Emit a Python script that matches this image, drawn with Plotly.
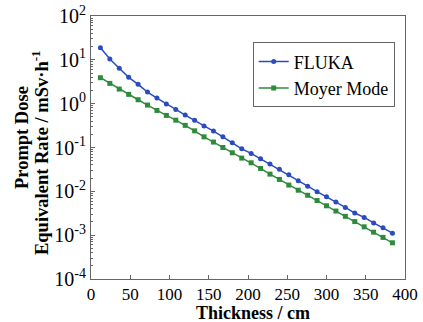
import plotly.graph_objects as go

thickness = [12, 24, 36, 48, 60, 72, 84, 96, 108, 120, 132, 144, 156, 168, 180, 192,
             204, 216, 228, 240, 252, 264, 276, 288, 300, 312, 324, 336, 348, 360, 372, 384]
fluka = [18.9, 10.4, 6.4, 3.98, 2.76, 1.84, 1.34, 0.98, 0.74, 0.55, 0.42, 0.308,
         0.237, 0.175, 0.128, 0.0933, 0.0733, 0.0552, 0.0418, 0.0321, 0.0238, 0.0174,
         0.0131, 0.0098, 0.0075, 0.0057, 0.0043, 0.0032, 0.00254, 0.0019, 0.00147, 0.00111]
moyer = [3.91, 2.90, 2.15, 1.63, 1.23, 0.93, 0.70, 0.54, 0.42, 0.32, 0.24, 0.175,
         0.133, 0.100, 0.0757, 0.0573, 0.0448, 0.0333, 0.0247, 0.0187, 0.0139, 0.0106,
         0.00813, 0.00617, 0.00468, 0.00355, 0.00269, 0.00204, 0.00155, 0.00117, 0.00089, 0.00067]
x_tickvals = [0, 50, 100, 150, 200, 250, 300, 350, 400]
x_ticktext = ["0", "50", "100", "150", "200", "250", "300", "350", "400"]
y_tickvals = [1e-4, 1e-3, 1e-2, 1e-1, 1e0, 1e1, 1e2]
y_ticktext = ["10<sup>-4</sup>", "10<sup>-3</sup>", "10<sup>-2</sup>", "10<sup>-1</sup>",
              "10<sup>0</sup>", "10<sup>1</sup>", "10<sup>2</sup>"]
x_title = "<b>Thickness / cm</b>"
y_title_lines = ["<b>Prompt Dose</b>", "<b>Equivalent Rate / mSv·h<sup>-1</sup></b>"]

FONT = "Liberation Serif"
BLUE = "#2a4cc0"
GREEN = "#2e8b3c"

fig = go.Figure()
fig.add_trace(go.Scatter(x=thickness, y=fluka, mode="lines+markers", name="FLUKA",
                         line=dict(color=BLUE, width=1.5),
                         marker=dict(symbol="circle", size=5, color=BLUE)))
fig.add_trace(go.Scatter(x=thickness, y=moyer, mode="lines+markers", name="Moyer Mode",
                         line=dict(color=GREEN, width=1.5),
                         marker=dict(symbol="square", size=5, color=GREEN)))

fig.update_layout(
    width=423, height=322,
    margin=dict(l=91, r=18, t=16, b=43),
    paper_bgcolor="white", plot_bgcolor="white",
    font=dict(family=FONT, size=17, color="black"),
    showlegend=True,
    legend=dict(x=0.515, y=0.9, xanchor="left", yanchor="top",
                bgcolor="white", bordercolor="#666", borderwidth=1,
                font=dict(family=FONT, size=18, color="black"), tracegroupgap=0,
                itemwidth=30),
    xaxis=dict(range=[0, 400], tickmode="array", tickvals=x_tickvals, ticktext=x_ticktext,
               automargin=False,
               ticks="inside", ticklen=4, tickcolor="#666", ticklabelstandoff=0,
               showline=True, linecolor="#666", linewidth=1, mirror=True,
               showgrid=False, zeroline=False,
               tickfont=dict(family=FONT, size=17, color="black")),
    yaxis=dict(type="log", range=[-4, 2], tickmode="array", tickvals=y_tickvals, ticktext=y_ticktext,
               automargin=False,
               ticks="inside", ticklen=4, tickcolor="#666",
               minor=dict(ticks="inside", ticklen=2, tickcolor="#666",
                          tickvals=[m * 10 ** e for e in range(-4, 2) for m in range(2, 10)]),
               showline=True, linecolor="#666", linewidth=1, mirror=True,
               showgrid=False, zeroline=False,
               tickfont=dict(family=FONT, size=20, color="black")),
)

fig.add_annotation(text=x_title, xref="paper", yref="paper", x=0.516, y=-0.131,
                   xanchor="center", yanchor="middle", showarrow=False,
                   font=dict(family=FONT, size=18, color="black"))
fig.add_annotation(text=y_title_lines[0], xref="paper", yref="paper", x=-0.2197, y=0.536,
                   xanchor="center", yanchor="middle", showarrow=False, textangle=-90,
                   font=dict(family=FONT, size=18.5, color="black"))
fig.add_annotation(text=y_title_lines[1], xref="paper", yref="paper", x=-0.1624, y=0.479,
                   xanchor="center", yanchor="middle", showarrow=False, textangle=-90,
                   font=dict(family=FONT, size=18.5, color="black"))

fig.write_html("out.html")
